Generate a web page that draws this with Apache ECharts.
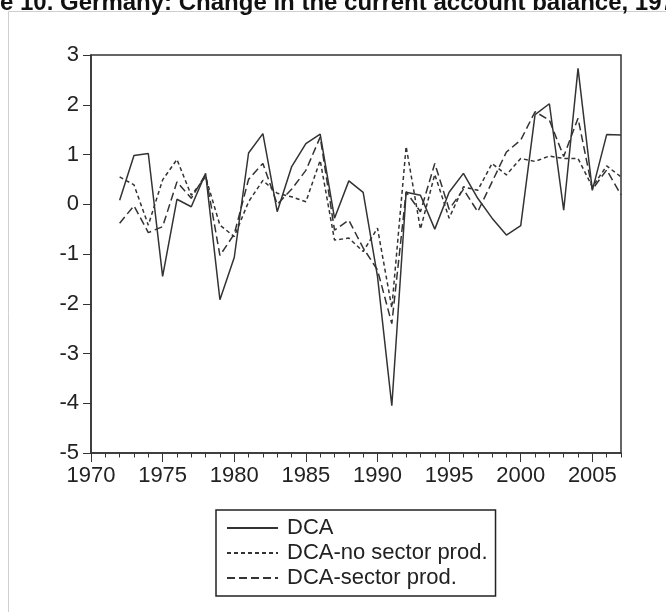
<!DOCTYPE html>
<html>
<head>
<meta charset="utf-8">
<script src="https://cdn.jsdelivr.net/npm/echarts@6/dist/echarts.min.js"></script>
<style>
  html, body { margin: 0; padding: 0; background: #fff; }
  #chart { width: 666px; height: 612px; }
</style>
</head>
<body>
<div id="chart"></div>
<script>
var years = [1972, 1973, 1974, 1975, 1976, 1977, 1978, 1979, 1980, 1981, 1982, 1983,
    1984, 1985, 1986, 1987, 1988, 1989, 1990, 1991, 1992, 1993, 1994, 1995,
    1996, 1997, 1998, 1999, 2000, 2001, 2002, 2003, 2004, 2005, 2006, 2007];
var dca = [0.08, 0.98, 1.02, -1.45, 0.10, -0.05, 0.62, -1.92, -1.07, 1.03, 1.42, -0.15,
    0.75, 1.22, 1.41, -0.28, 0.47, 0.24, -1.45, -4.05, 0.24, 0.18, -0.50, 0.24,
    0.62, 0.12, -0.28, -0.62, -0.43, 1.80, 2.02, -0.12, 2.73, 0.28, 1.40, 1.39];
var dcaNoSector = [0.55, 0.39, -0.42, 0.49, 0.90, 0.18, 0.55, -0.42, -0.65, 0.05, 0.48, 0.22,
    0.15, 0.05, 0.88, -0.72, -0.68, -0.95, -0.48, -2.08, 1.16, -0.50, 0.60, -0.28,
    0.35, 0.28, 0.82, 0.59, 0.92, 0.86, 0.97, 0.92, 0.92, 0.35, 0.77, 0.55];
var dcaSector = [-0.38, -0.03, -0.57, -0.45, 0.45, 0.12, 0.60, -1.03, -0.60, 0.50, 0.82, 0.00,
    0.30, 0.68, 1.35, -0.52, -0.32, -0.88, -1.32, -2.40, 0.25, -0.15, 0.82, -0.10,
    0.30, -0.15, 0.45, 1.05, 1.29, 1.86, 1.69, 0.96, 1.73, 0.30, 0.69, 0.19];
var majorYears = [1970, 1975, 1980, 1985, 1990, 1995, 2000, 2005];

function pairs(vals) {
    var out = [];
    for (var i = 0; i < years.length; i++) {
        out.push([years[i], vals[i]]);
    }
    return out;
}

var ink = '#333';
var font = '"Liberation Sans", Arial, sans-serif';

var myChart = echarts.init(document.getElementById('chart'), null, { renderer: 'canvas' });
var option = {
    backgroundColor: '#fff',
    animation: false,
    graphic: [
        {
            type: 'rect',
            shape: { x: 8.5, y: 11.5, width: 720, height: 700 },
            style: { fill: 'none', stroke: '#cfcfcf', lineWidth: 1 }
        },
        {
            type: 'text',
            x: -60,
            y: 3,
            style: {
                text: 'Figure 10. Germany: Change in the current account balance, 1970-2007',
                font: 'bold 24px ' + font,
                fill: '#111',
                verticalAlign: 'middle'
            }
        }
    ],
    grid: {
        left: 91, top: 55, right: 45, bottom: 159,
        show: true, borderColor: ink, borderWidth: 1.5, backgroundColor: 'transparent'
    },
    legend: {
        left: 216, top: 510,
        orient: 'vertical',
        padding: [6, 8, 6, 10],
        itemGap: 1,
        itemWidth: 51,
        itemHeight: 12,
        borderColor: '#222',
        borderWidth: 1.5,
        itemStyle: { opacity: 0 },
        textStyle: { fontFamily: font, fontSize: 22, color: '#222', lineHeight: 24, padding: [0, 0, 0, 4] },
        data: ['DCA', 'DCA-no sector prod.', 'DCA-sector prod.']
    },
    xAxis: [
        {
            type: 'value', min: 1970, max: 2007,
            axisLine: { onZero: false, lineStyle: { color: ink, width: 1.5 } },
            axisTick: { length: 9, customValues: majorYears, lineStyle: { color: ink } },
            axisLabel: {
                customValues: majorYears, margin: 12, fontFamily: font, fontSize: 22, color: '#222',
                formatter: function (v) { return String(v); }
            },
            splitLine: { show: false }
        },
        {
            type: 'value', min: 1970, max: 2007, interval: 1, position: 'bottom',
            axisLine: { show: false, onZero: false },
            axisTick: { length: 4.5, lineStyle: { color: ink } },
            axisLabel: { show: false },
            splitLine: { show: false }
        }
    ],
    yAxis: {
        type: 'value', min: -5, max: 3, interval: 1,
        axisLine: { show: true, onZero: false, lineStyle: { color: ink, width: 1.5 } },
        axisTick: { show: true, length: 8, lineStyle: { color: ink } },
        axisLabel: { margin: 12, fontFamily: font, fontSize: 22, color: '#222' },
        splitLine: { show: false }
    },
    series: [
        {
            name: 'DCA', type: 'line', symbol: 'none',
            lineStyle: { color: ink, width: 1.5, type: 'solid' },
            itemStyle: { color: ink },
            data: pairs(dca)
        },
        {
            name: 'DCA-no sector prod.', type: 'line', symbol: 'none',
            lineStyle: { color: ink, width: 1.5, type: [4, 3] },
            itemStyle: { color: ink },
            data: pairs(dcaNoSector)
        },
        {
            name: 'DCA-sector prod.', type: 'line', symbol: 'none',
            lineStyle: { color: ink, width: 1.5, type: [8, 4] },
            itemStyle: { color: ink },
            data: pairs(dcaSector)
        }
    ]
};
myChart.setOption(option);
</script>
</body>
</html>
